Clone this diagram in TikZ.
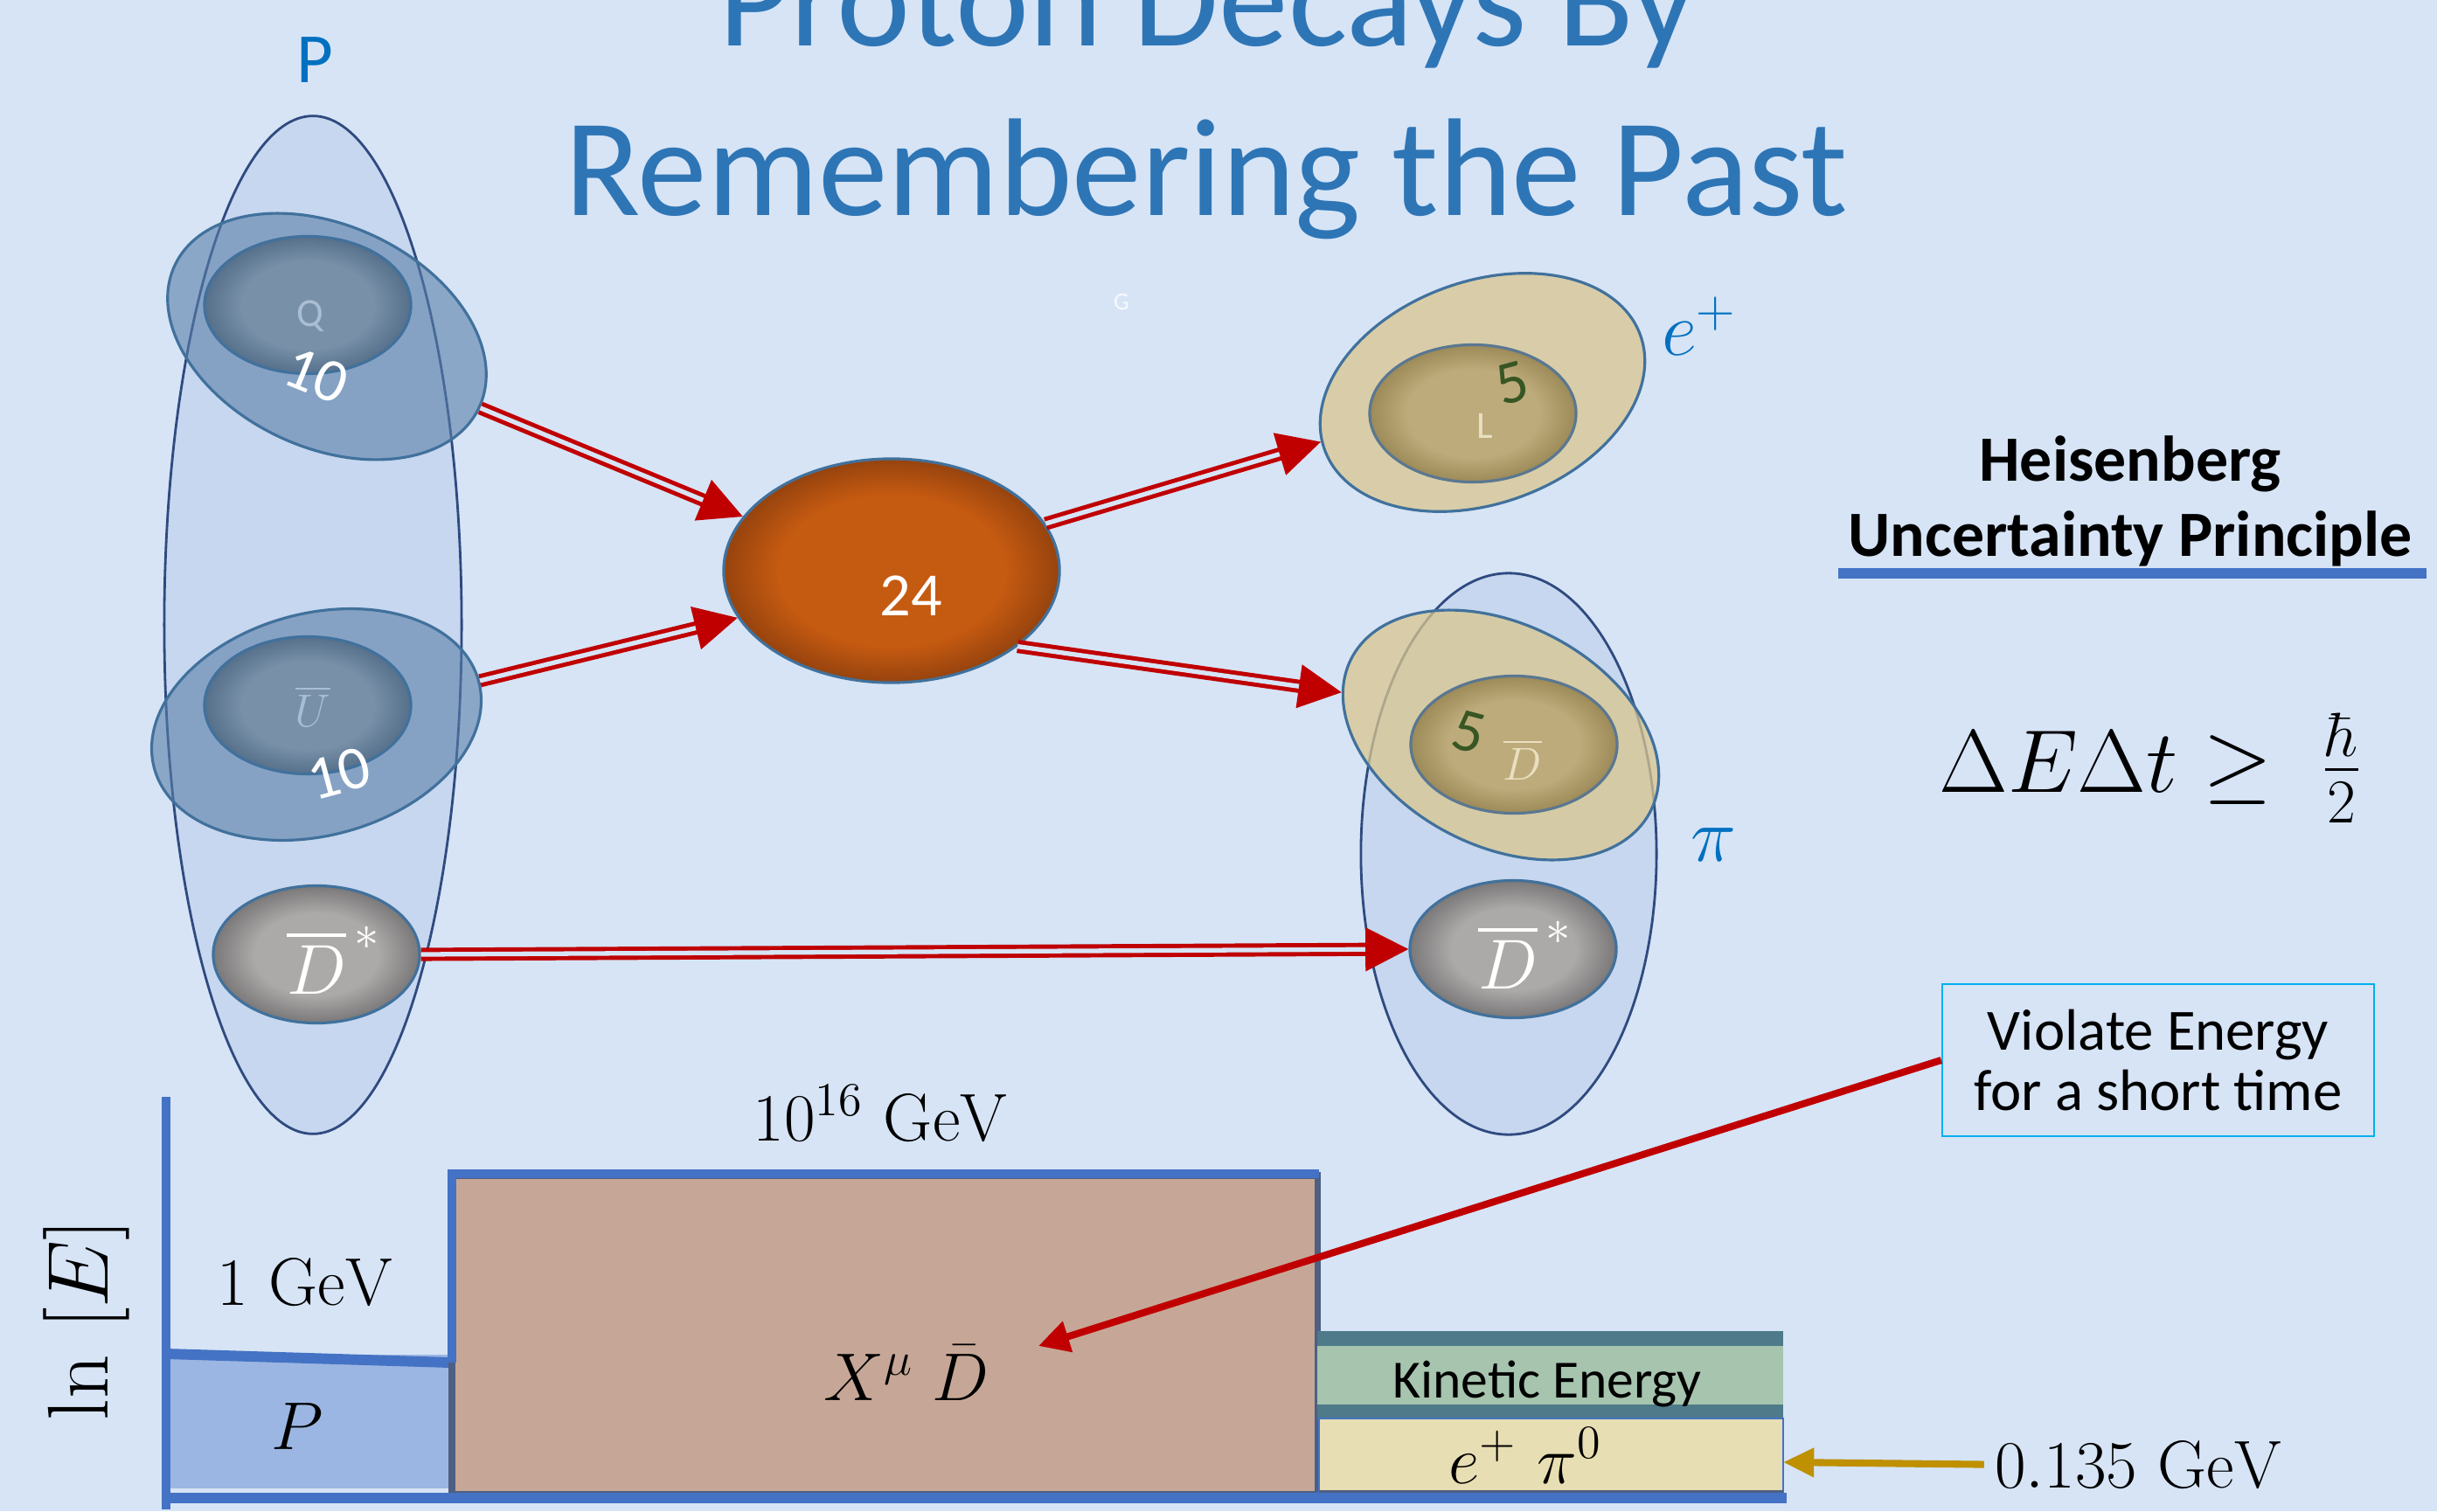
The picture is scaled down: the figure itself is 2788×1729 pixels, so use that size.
\RequirePackage{fix-cm}
\documentclass[tikz,border=0pt]{standalone}
\usepackage{amsmath}
\usepackage{fontspec}
\newfontfamily\carlito{Carlito}
\usepackage{tikz}
\usetikzlibrary{arrows.meta, shapes.geometric}

\definecolor{bgblue}{HTML}{D6E4F6}
\definecolor{ttlblue}{HTML}{2E75B6}
\definecolor{lblblue}{HTML}{0070C0}
\definecolor{edgeblue}{HTML}{41719C}
\definecolor{hullnavy}{HTML}{2F4A7F}
\definecolor{arrred}{HTML}{C00000}
\definecolor{slateout}{HTML}{5A7FA8}
\definecolor{slate1}{HTML}{7890A8}
\definecolor{slate2}{HTML}{56708B}
\definecolor{gray1}{HTML}{ACAAA9}
\definecolor{gray2}{HTML}{7A7878}
\definecolor{tan1}{HTML}{BDAB7B}
\definecolor{tan2}{HTML}{9C8A58}
\definecolor{orng1}{HTML}{C55A11}
\definecolor{orng2}{HTML}{96430E}
\definecolor{khaki}{HTML}{D9C68E}
\definecolor{fivegreen}{HTML}{375623}
\definecolor{faintq}{HTML}{A9BED3}
\definecolor{cream}{HTML}{E9E0C0}
\definecolor{boxbrown}{HTML}{C6A797}
\definecolor{boxgreen}{HTML}{A6C4AE}
\definecolor{boxteal}{HTML}{4E7A8A}
\definecolor{boxcream}{HTML}{E8DEB3}
\definecolor{darkedge}{HTML}{4F5F82}
\definecolor{goldarr}{HTML}{BF9000}
\definecolor{cyanbox}{HTML}{00B0F0}
\definecolor{barblue}{HTML}{4472C4}

\pgfdeclareradialshading{rimslate}{\pgfpoint{0bp}{0bp}}{color(0bp)=(slate1); color(16bp)=(slate1); color(25bp)=(slate2); color(50bp)=(slate2)}
\pgfdeclareradialshading{rimgray}{\pgfpoint{0bp}{0bp}}{color(0bp)=(gray1); color(15bp)=(gray1); color(25bp)=(gray2); color(50bp)=(gray2)}
\pgfdeclareradialshading{rimtan}{\pgfpoint{0bp}{0bp}}{color(0bp)=(tan1); color(16bp)=(tan1); color(25bp)=(tan2); color(50bp)=(tan2)}
\pgfdeclareradialshading{rimorange}{\pgfpoint{0bp}{0bp}}{color(0bp)=(orng1); color(17bp)=(orng1); color(25bp)=(orng2); color(50bp)=(orng2)}

\tikzset{
  cloud/.style={ellipse, draw=edgeblue, line width=0.9pt, inner sep=0pt,
    minimum width=3.84cm, minimum height=2.54cm},
  core/.style={ellipse, draw=edgeblue, line width=0.9pt, inner sep=0pt,
    minimum width=2.36cm, minimum height=1.57cm},
  hull/.style={ellipse, draw=hullnavy, line width=0.8pt, inner sep=0pt,
    fill=barblue!45, fill opacity=0.35},
  num/.style={text=white, font=\carlito\fontsize{20}{24}\selectfont},
  five/.style={text=fivegreen, font=\carlito\fontsize{20}{24}\selectfont},
  dbl/.style={draw=arrred, line width=1.4pt, double=bgblue, double distance=1.5pt,
    -{Triangle[length=14pt, width=14pt]}},
  mlbl/.style={font=\fontsize{22}{26}\selectfont, anchor=base},
}

\begin{document}
\begin{tikzpicture}[x=0.01cm, y=0.01cm]
  \clip (0,0) rectangle (2788,1729);
  \fill[bgblue] (0,0) rectangle (2788,1729);

  % title
  \node[anchor=base, text=ttlblue, font=\carlito\fontsize{45.3}{50}\selectfont] (ttl1) at (1381,1676) {Proton Decays By};
  \node[anchor=base, text=ttlblue, font=\carlito\fontsize{45.3}{50}\selectfont] (ttl2) at (1380,1482) {Remembering the Past};

  % proton
  \node[hull, minimum width=3.4cm, minimum height=11.64cm] (pell) at (358,1014) {};
  \node[anchor=base, text=lblblue, font=\carlito\fontsize{23}{28}\selectfont] (plbl) at (360,1634) {P};
  \node[cloud, fill=slateout, fill opacity=0.6, rotate=-25] (q10) at (374,1344) {};
  \node[core, shading=rimslate] (qin) at (352,1380) {};
  \node[text=faintq, font=\carlito\fontsize{13}{15}\selectfont] (qlbl) at (355,1367) {Q};
  \node[num, rotate=-22] (q10n) at (362,1299) {10};
  \node[cloud, fill=slateout, fill opacity=0.6, rotate=15] (u10) at (362,900) {};
  \node[core, shading=rimslate] (uin) at (352,922) {};
  \node[text=faintq, font=\fontsize{15}{18}\selectfont] (ulbl) at (358,921) {$\overline{U}$};
  \node[num, rotate=15] (u10n) at (388,844) {10};
  \node[core, shading=rimgray] (dsl) at (362,637) {};
  \node[text=white, font=\fontsize{23}{28}\selectfont] (dsln) at (382,630) {$\overline{D}^{\,*}$};

  % heavy state
  \node[core, shading=rimorange, minimum width=3.84cm, minimum height=2.56cm] (x24) at (1020,1076) {};
  \node[num] (x24n) at (1042,1047) {24};
  \node[text=white, opacity=0.8, font=\carlito\fontsize{8}{9}\selectfont] (glbl) at (1283,1384) {G};

  % positron
  \node[cloud, fill=khaki, fill opacity=0.75, rotate=20] (eplus) at (1696,1280) {};
  \node[core, draw=edgeblue!60!gray, shading=rimtan] (lin) at (1685,1256) {};
  \node[five, rotate=15] (e5) at (1730,1291) {5};
  \node[text=cream, font=\carlito\fontsize{12.5}{15}\selectfont] (llbl) at (1699,1242) {L};
  \node[text=lblblue, font=\fontsize{25}{30}\selectfont] (elbl) at (1944,1356) {$e^{+}$};

  % pion
  \node[hull, minimum width=3.38cm, minimum height=6.42cm] (piell) at (1726,752) {};
  \node[cloud, fill=khaki, fill opacity=0.75, rotate=-27] (d5) at (1717,888) {};
  \node[core, draw=edgeblue!60!gray, shading=rimtan] (dbin) at (1732,877) {};
  \node[five, rotate=-15] (d5n) at (1680,891) {5};
  \node[text=cream, font=\fontsize{15}{18}\selectfont] (dblbl) at (1742,860) {$\overline{D}$};
  \node[core, shading=rimgray] (dsr) at (1731,643) {};
  \node[text=white, font=\fontsize{23}{28}\selectfont] (dsrn) at (1745,636) {$\overline{D}^{\,*}$};
  \node[text=lblblue, font=\fontsize{25}{30}\selectfont] (pilbl) at (1960,762) {$\pi$};

  \draw[dbl] (q10.east) -- (x24.160);
  \draw[dbl] (u10.east) -- (x24.197);
  \draw[dbl] (x24.17) -- (eplus.177);
  \draw[dbl] (x24.-31) -- (d5.192);
  \draw[dbl] (dsl.east) -- (dsr.west);

  % uncertainty
  \node[anchor=base, font=\carlito\bfseries\fontsize{21}{25}\selectfont] (heis1) at (2437,1179) {Heisenberg};
  \node[anchor=base, font=\carlito\bfseries\fontsize{21}{25}\selectfont] (heis2) at (2437,1093) {Uncertainty Principle};
  \draw[barblue, line width=3.4pt] (2103,1073) -- (2776,1073);
  \node[anchor=base, font=\fontsize{29}{34}\selectfont] (heq) at (2460,823) {$\Delta E\Delta t\geq\;\frac{\hbar}{2}$};
  \node[draw=cyanbox, line width=0.6pt, align=center, minimum width=4.94cm, minimum height=1.74cm,
    font=\carlito\fontsize{19}{19.6}\selectfont] (viol) at (2469,516) {Violate Energy\\for a short time};

  % energy levels
  \fill[barblue, fill opacity=0.4] (193,26) rectangle (515,179);
  \draw[barblue, line width=3.4pt] (190,180) -- (515,170);
  \draw[darkedge, line width=2pt, fill=boxbrown] (517,19) rectangle (1507,384);
  \draw[barblue, line width=3pt] (517,170) -- (517,386) -- (1509,386);
  \fill[boxgreen] (1507,106) rectangle (2040,206);
  \fill[boxteal] (1507,189) rectangle (2040,206);
  \fill[boxteal] (1507,106) rectangle (2040,122);
  \draw[barblue, line width=0.6pt, fill=boxcream] (1509,17) rectangle (2040,106);
  \fill[darkedge] (1509,17) rectangle (2040,24);
  \draw[barblue, line width=3.4pt] (186,15) -- (2044,15);
  \draw[barblue, line width=2.8pt] (190,2) -- (190,474);

  \node[mlbl] (e16) at (1007,424) {$10^{16}\ \mathrm{GeV}$};
  \node[mlbl] (e1) at (349,236) {$1\ \mathrm{GeV}$};
  \node[mlbl] (plev) at (340,71) {$P$};
  \node[mlbl] (xd) at (1037,127) {$X^{\mu}\;\bar{D}$};
  \node[anchor=base, font=\carlito\fontsize{17.5}{20}\selectfont] (kin) at (1770,130) {Kinetic Energy};
  \node[mlbl] (epi) at (1745,32) {$e^{+}\ \pi^{0}$};
  \node[mlbl] (mpi) at (2446,27) {$0.135\ \mathrm{GeV}$};
  \node[rotate=90, font=\fontsize{28}{34}\selectfont] (lnE) at (99,219) {$\ln\ [E]$};

  \coordinate (xdtip) at (1188,189);
  \coordinate (piedge) at (2040,56);
  \draw[arrred, line width=2.3pt, -{Triangle[length=10pt, width=10pt]}] (viol.west) -- (xdtip);
  \draw[goldarr, line width=2.3pt, -{Triangle[length=10pt, width=9pt]}] (mpi.west) -- (piedge);
\end{tikzpicture}
\end{document}
